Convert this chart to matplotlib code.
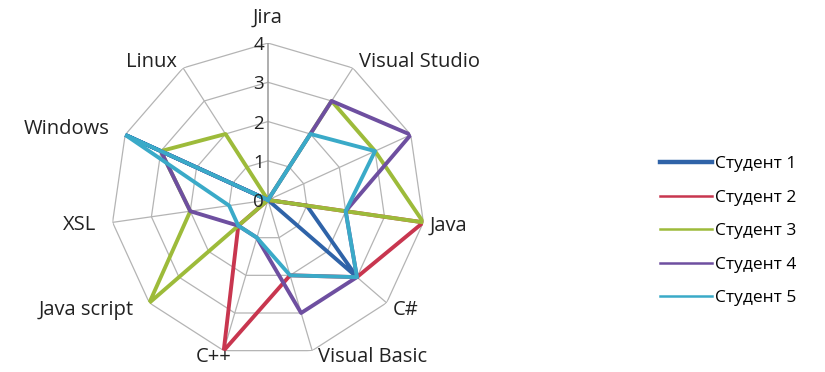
import numpy as np
import matplotlib.pyplot as plt

plt.rcParams['font.family'] = ['Open Sans', 'DejaVu Sans']

# категории по часовой стрелке, начиная сверху
categories = ['Jira', 'Visual Studio', '', 'Java', 'C#', 'Visual Basic',
              'C++', 'Java script', 'XSL', 'Windows', 'Linux']

student1 = [0, 0, 0, 1, 3, 0, 0, 0, 0, 4, 0]
student2 = [0, 0, 0, 4, 3, 2, 4, 1, 0, 0, 0]
student3 = [0, 3, 3, 4, 0, 0, 0, 4, 2, 3, 2]
student4 = [0, 3, 4, 2, 3, 3, 1, 1, 2, 3, 0]
student5 = [0, 2, 3, 2, 3, 2, 1, 1, 1, 4, 0]

series = [student1, student2, student3, student4, student5]
names = ['Студент 1', 'Студент 2', 'Студент 3', 'Студент 4', 'Студент 5']
colors = ['#2F63A8', '#C8364F', '#9DBB3A', '#6E4FA0', '#3AAAC8']
rings = [0, 1, 2, 3, 4]

fig = plt.figure(figsize=(8.25, 3.72), dpi=100)
ax = fig.add_axes([0.1345, 0.0403, 0.3806, 0.844], polar=True)
ax.set_theta_zero_location('N')
ax.set_theta_direction(-1)
ax.set_ylim(0, 4)
ax.grid(False)
ax.spines['polar'].set_visible(False)
ax.set_xticks([])
ax.set_yticks([])
ax.patch.set_alpha(0)

n = len(categories)
theta = np.linspace(0, 2 * np.pi, n, endpoint=False)
closed = np.append(theta, theta[0])

# сетка в виде многоугольников
grid_color = '#B4B4B4'
for r in rings[1:]:
    ax.plot(closed, [r] * (n + 1), color=grid_color, lw=0.9, zorder=1)
for i, t in enumerate(theta):
    ax.plot([t, t], [0, 4], color='#999999' if i == 0 else grid_color,
            lw=1.1 if i == 0 else 0.9, zorder=1)

# подписи шкалы
for r in rings:
    ax.annotate(str(r), xy=(0, r), xytext=(-4, -2), textcoords='offset pixels',
                ha='right', va='center', fontsize=13.5, color='#222222', zorder=5)

# подписи категорий (смещения в пикселях от вершины внешнего кольца)
for t, lab in zip(theta, categories):
    s, c = np.sin(t), np.cos(t)
    if abs(s) < 0.1:
        ha, dx, dy = 'center', 0, 25
    elif s > 0:
        ha, dx = 'left', 6
        dy = 6 if c > 0.3 else (-7 if c < -0.3 else -3)
        if c < -0.9:
            dy = -6
    else:
        ha, dx = 'right', -16
        dy = 6 if c > 0.3 else (-7 if c < -0.3 else -3)
        if c > 0.8:
            dx = -6
        if c < -0.9:
            dx, dy = 8, -6
    ax.annotate(lab, xy=(t, 4), xytext=(dx, dy), textcoords='offset pixels',
                ha=ha, va='center', fontsize=14.5, color='#222222')

for vals, name, col in zip(series, names, colors):
    ax.plot(closed, vals + vals[:1], color=col, lw=2.8, label=name, zorder=3)

leg = fig.legend(loc='center left', bbox_to_anchor=(0.80, 0.378), frameon=False,
                 fontsize=12.5, handlelength=3.0, handletextpad=0.15,
                 labelspacing=1.0, borderpad=0, borderaxespad=0)
for i, line in enumerate(leg.get_lines()):
    line.set_linewidth(3.2 if i == 0 else 1.8)

fig.savefig('out.png', dpi=100)
